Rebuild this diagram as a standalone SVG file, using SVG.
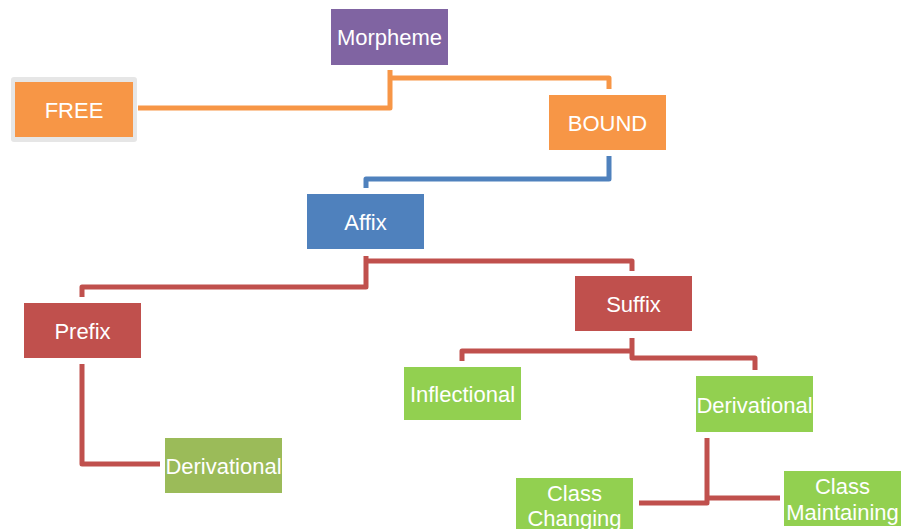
<svg xmlns="http://www.w3.org/2000/svg" width="905" height="529" viewBox="0 0 905 529">
<style>
text{font-family:"Liberation Sans",Arial,sans-serif;font-size:22px;fill:#fff;text-anchor:middle}
.c{fill:none;stroke-width:5;stroke-linejoin:round}
.o{stroke:#F79646}.b{stroke:#4F81BD}.r{stroke:#C0504D}
</style>
<rect width="905" height="529" fill="#fff"/>
<g id="connectors">
<path class="c o" d="M390 70 V108 H138"/>
<path class="c o" d="M390 78 H609 V89"/>
<path class="c b" d="M609 156 V179 H366 V188"/>
<path class="c r" d="M366 256 V287 H82 V297"/>
<path class="c r" d="M366 261 H632 V271"/>
<path class="c r" d="M632 338 V358 H755 V370"/>
<path class="c r" d="M632 351 H462 V361"/>
<path class="c r" d="M82 364 V464 H160"/>
<path class="c r" d="M707 438 V503 H639"/>
<path class="c r" d="M707 498 H780"/>
</g>
<g id="morpheme"><rect x="331" y="9" width="117" height="56" fill="#8064A2"/><text x="389.5" y="45">Morpheme</text></g>
<g id="free"><rect x="11" y="77" width="126" height="65" rx="3" fill="#E6E6E6"/><rect x="15" y="82" width="118" height="55" fill="#F79646"/><text x="74" y="117.5">FREE</text></g>
<g id="bound"><rect x="549" y="95" width="117" height="55" fill="#F79646"/><text x="607.5" y="130.5">BOUND</text></g>
<g id="affix"><rect x="307" y="194" width="117" height="55" fill="#4F81BD"/><text x="365.5" y="229.5">Affix</text></g>
<g id="prefix"><rect x="24" y="303" width="117" height="55" fill="#C0504D"/><text x="82.5" y="338.5">Prefix</text></g>
<g id="suffix"><rect x="575" y="276" width="117" height="55" fill="#C0504D"/><text x="633.5" y="311.5">Suffix</text></g>
<g id="inflectional"><rect x="404" y="367" width="117" height="53" fill="#92D050"/><text x="462.5" y="401.5">Inflectional</text></g>
<g id="derivational-right"><rect x="696" y="376" width="117" height="56" fill="#92D050"/><text x="754.5" y="412.5">Derivational</text></g>
<g id="derivational-left"><rect x="165" y="438" width="117" height="55" fill="#9BBB59"/><text x="223.5" y="473.5">Derivational</text></g>
<g id="class-changing"><rect x="516" y="478" width="117" height="55" fill="#92D050"/><text x="574.5" y="500.5">Class</text><text x="574.5" y="525.5">Changing</text></g>
<g id="class-maintaining"><rect x="784" y="471" width="117" height="55" fill="#92D050"/><text x="842.5" y="493.5">Class</text><text x="842.5" y="519.5">Maintaining</text></g>
</svg>
